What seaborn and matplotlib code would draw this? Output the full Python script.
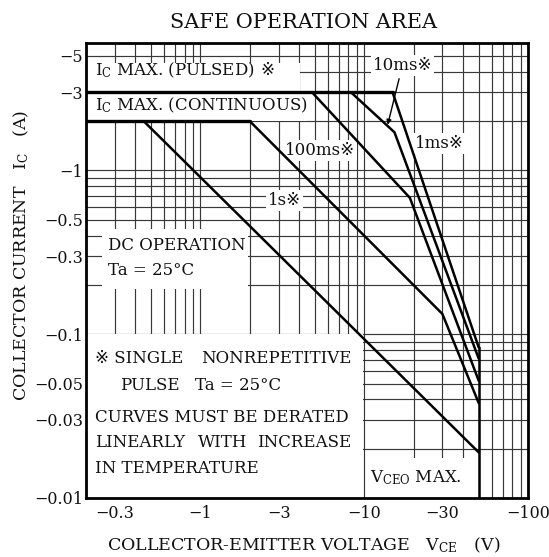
import matplotlib
matplotlib.use("Agg")
import matplotlib.pyplot as plt
from matplotlib.patches import Rectangle
import pandas as pd
import seaborn as sns

sns.set_theme(style="white")
FAM = ["DejaVu Serif", "DejaVu Sans", "Noto Sans CJK JP"]
plt.rcParams["font.family"] = FAM
plt.rcParams["mathtext.fontset"] = "custom"
plt.rcParams["mathtext.rm"] = "DejaVu Serif"
plt.rcParams["mathtext.it"] = "DejaVu Serif"
plt.rcParams["text.color"] = "#111111"

# ---------------- data (magnitudes; axis labels carry the minus sign) ----------------
pulsed_v = [0.2, 14.9]
pulsed_i = [3.0, 3.0]
cont_v = [0.2, 2.0]
cont_i = [2.0, 2.0]
dc_v = [0.45, 50.0]
dc_i = [2.0, 0.019]
s1_v = [2.0, 30.0, 50.0]
s1_i = [2.0, 0.133, 0.038]
ms100_v = [4.8, 19.0, 50.0]
ms100_i = [3.0, 0.68, 0.052]
ms10_v = [8.3, 15.3, 50.0]
ms10_i = [3.0, 1.71, 0.071]
ms1_v = [14.9, 50.0]
ms1_i = [3.0, 0.083]
vceo_v = [50.0, 50.0]
vceo_i = [0.083, 0.01]

x_ticks = [0.3, 1, 3, 10, 30, 100]
x_ticklabels = ["\u22120.3", "\u22121", "\u22123", "\u221210", "\u221230", "\u2212100"]
y_ticks = [0.01, 0.03, 0.05, 0.1, 0.3, 0.5, 1, 3, 5]
y_ticklabels = ["\u22120.01", "\u22120.03", "\u22120.05", "\u22120.1", "\u22120.3",
                "\u22120.5", "\u22121", "\u22123", "\u22125"]

limits = pd.concat([
    pd.DataFrame({"curve": "pulsed", "V": pulsed_v, "I": pulsed_i}),
    pd.DataFrame({"curve": "cont", "V": cont_v, "I": cont_i}),
])
soa = pd.concat([
    pd.DataFrame({"curve": "DC", "V": dc_v, "I": dc_i}),
    pd.DataFrame({"curve": "1s", "V": s1_v, "I": s1_i}),
    pd.DataFrame({"curve": "100ms", "V": ms100_v, "I": ms100_i}),
    pd.DataFrame({"curve": "10ms", "V": ms10_v, "I": ms10_i}),
    pd.DataFrame({"curve": "1ms", "V": ms1_v, "I": ms1_i}),
    pd.DataFrame({"curve": "VCEO", "V": vceo_v, "I": vceo_i}),
])

W, H = 549, 557
fig = plt.figure(figsize=(W / 100, H / 100), dpi=100)
ax = fig.add_axes([86 / W, 1 - 498 / H, 442 / W, 455 / H])
ax.set_xscale("log")
ax.set_yscale("log")
ax.set_xlim(0.2, 100)
ax.set_ylim(0.01, 6)

# grid
gx = [m * 10.0 ** e for e in (-1, 0, 1) for m in range(1, 10)] + [100]
gy = [m * 10.0 ** e for e in (-2, -1, 0) for m in range(1, 10)]
for v in gx:
    if 0.2 <= v <= 100:
        ax.axvline(v, color="#383838", lw=0.85, zorder=1)
for v in gy:
    if 0.01 <= v <= 6:
        ax.axhline(v, color="#383838", lw=0.85, zorder=1)

# white areas behind annotations
for (x0, x1, y0, y1) in [(0.2, 4.04, 3.0, 4.5), (0.2, 4.5, 2.0, 3.0),
                         (0.25, 1.95, 0.19, 0.44), (0.2, 9.85, 0.01, 0.1),
                         (10.3, 47.0, 0.01, 0.0175)]:
    ax.add_patch(Rectangle((x0, y0), x1 - x0, y1 - y0, facecolor="white",
                           edgecolor="none", zorder=1.5))

sns.lineplot(data=limits, x="V", y="I", units="curve", estimator=None, sort=False,
             color="black", lw=2.4, ax=ax, zorder=4)
sns.lineplot(data=soa, x="V", y="I", units="curve", estimator=None, sort=False,
             color="black", lw=1.8, ax=ax, zorder=4)

ax.set_xlabel("")
ax.set_ylabel("")
ax.set_xticks(x_ticks, x_ticklabels)
ax.set_yticks(y_ticks, y_ticklabels)
ax.xaxis.set_minor_locator(matplotlib.ticker.NullLocator())
ax.yaxis.set_minor_locator(matplotlib.ticker.NullLocator())
ax.tick_params(axis="both", length=0, labelsize=11.5, colors="#111111")
ax.tick_params(axis="x", pad=5)
ax.tick_params(axis="y", pad=2)
for s in ax.spines.values():
    s.set_color("black")
    s.set_linewidth(2.0)
    s.set_zorder(5)

fs = 12
box = dict(facecolor="white", edgecolor="none", pad=1.5)
t1 = ax.text(0.227, 4.07, "I$_{\\mathrm{C}}$ MAX. (PULSED)", fontsize=fs, ha="left", va="center", zorder=3)
ax.annotate("\u203b", xy=(1, 0.5), xycoords=t1, xytext=(4, 0), textcoords="offset points",
            ha="left", va="center", fontsize=fs, zorder=3)
ax.text(0.227, 2.49, "I$_{\\mathrm{C}}$ MAX. (CONTINUOUS)", fontsize=fs, ha="left", va="center", zorder=3)
ax.annotate("10ms\u203b", xy=(13.9, 1.9), xytext=(17.1, 4.37), textcoords="data",
            ha="center", va="center", fontsize=fs, zorder=3, bbox=box,
            arrowprops=dict(arrowstyle="-|>", color="black", lw=1.0, mutation_scale=7,
                            shrinkA=2, shrinkB=0))
ax.text(28.8, 1.46, "1ms\u203b", fontsize=fs, ha="center", va="center", zorder=3, bbox=box)
ax.text(5.35, 1.32, "100ms\u203b", fontsize=fs, ha="center", va="center", zorder=3, bbox=box)
ax.text(3.27, 0.656, "1s\u203b", fontsize=fs, ha="center", va="center", zorder=3, bbox=box)
ax.text(0.272, 0.349, "DC OPERATION", fontsize=fs, ha="left", va="center", zorder=3)
ax.text(0.272, 0.246, "Ta = 25\u00b0C", fontsize=fs, ha="left", va="center", zorder=3)

ax.text(0.227, 0.0714, "\u203b SINGLE", fontsize=fs, ha="left", va="center", zorder=3)
ax.text(8.38, 0.0714, "NONREPETITIVE", fontsize=fs, ha="right", va="center", zorder=3)
ax.text(0.322, 0.0489, "PULSE", fontsize=fs, ha="left", va="center", zorder=3)
ax.text(0.925, 0.0489, "Ta = 25\u00b0C", fontsize=fs, ha="left", va="center", zorder=3)
ax.text(0.227, 0.0312, "CURVES MUST BE DERATED", fontsize=fs, ha="left", va="center", zorder=3)
ax.text(0.227, 0.0217, "LINEARLY", fontsize=fs, ha="left", va="center", zorder=3)
ax.text(1.37, 0.0217, "WITH", fontsize=fs, ha="center", va="center", zorder=3)
ax.text(8.38, 0.0217, "INCREASE", fontsize=fs, ha="right", va="center", zorder=3)
ax.text(0.227, 0.0152, "IN TEMPERATURE", fontsize=fs, ha="left", va="center", zorder=3)
ax.text(10.8, 0.0134, "V$_{\\mathrm{CEO}}$ MAX.", fontsize=fs, ha="left", va="center", zorder=3)

fig.text(304 / W, 1 - 22 / H, "SAFE OPERATION AREA", fontsize=15, ha="center", va="center")
fig.text(304 / W, 1 - 545 / H, "COLLECTOR-EMITTER VOLTAGE   V$_{\\mathrm{CE}}$   (V)",
         fontsize=12.5, ha="center", va="center")
fig.text(21 / W, 1 - 255 / H, "COLLECTOR CURRENT   I$_{\\mathrm{C}}$   (A)",
         fontsize=12.5, ha="center", va="center", rotation=90)

fig.savefig("out.png", dpi=100, facecolor="white")
